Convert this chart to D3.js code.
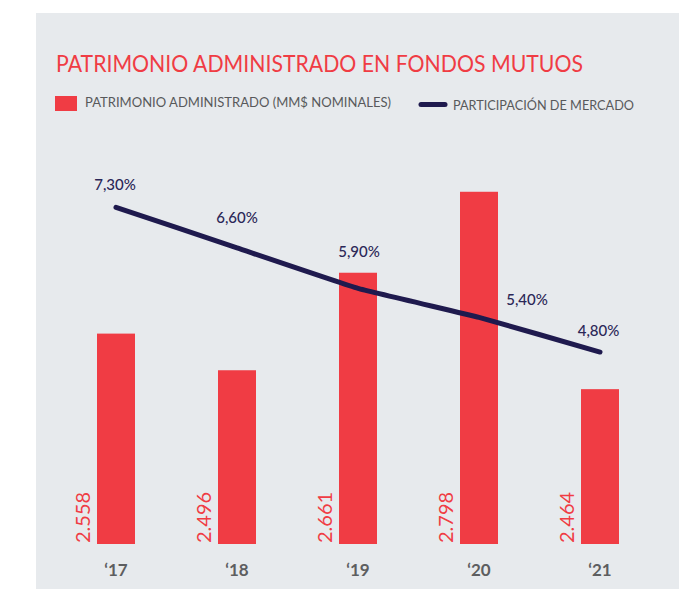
<!DOCTYPE html>
<html>
<head>
<meta charset="utf-8">
<script src="https://cdn.jsdelivr.net/npm/d3@7/dist/d3.min.js"></script>
<style>
  html, body { margin: 0; padding: 0; background: #ffffff; }
  svg { display: block; }
  text { font-family: Lato, "Open Sans", sans-serif; }
</style>
</head>
<body>
<svg id="chart" width="687" height="589"></svg>
<script>
// Fund assets under management (thousands of millions, nominal) and market share
const years = ["‘17", "‘18", "‘19", "‘20", "‘21"];
const assets = [2.558, 2.496, 2.661, 2.798, 2.464];
const assetLabels = ["2.558", "2.496", "2.661", "2.798", "2.464"];
const share = [7.30, 6.60, 5.90, 5.40, 4.80];
const shareLabels = ["7,30%", "6,60%", "5,90%", "5,40%", "4,80%"];

// Hand-placed offsets for the share labels, relative to each line point
const shareLabelNudge = [[-1, -17], [0, -25], [1, -31], [48, -12], [-1.5, -16]];

const RED = "#f03c44";
const NAVY = "#1f1a4e";
const GREY = "#58595b";

const svg = d3.select("#chart");

// Panel background
svg.append("rect")
  .attr("x", 36).attr("y", 13)
  .attr("width", 643).attr("height", 576)
  .attr("fill", "#e7eaed");

// Title
svg.append("text")
  .attr("x", 56).attr("y", 72)
  .attr("font-size", 24)
  .attr("fill", RED)
  .attr("textLength", 527)
  .attr("lengthAdjust", "spacingAndGlyphs")
  .text("PATRIMONIO ADMINISTRADO EN FONDOS MUTUOS");

// Legend
const legend = svg.append("g");
legend.append("rect")
  .attr("x", 55).attr("y", 96).attr("width", 22).attr("height", 15)
  .attr("fill", RED);
legend.append("text")
  .attr("x", 85).attr("y", 107)
  .attr("font-size", 13).attr("fill", GREY)
  .attr("textLength", 306).attr("lengthAdjust", "spacingAndGlyphs")
  .text("PATRIMONIO ADMINISTRADO (MM$ NOMINALES)");
legend.append("line")
  .attr("x1", 421).attr("x2", 445).attr("y1", 104.5).attr("y2", 104.5)
  .attr("stroke", NAVY).attr("stroke-width", 5).attr("stroke-linecap", "round");
legend.append("text")
  .attr("x", 453).attr("y", 110)
  .attr("font-size", 13).attr("fill", GREY)
  .attr("textLength", 181).attr("lengthAdjust", "spacingAndGlyphs")
  .text("PARTICIPACIÓN DE MERCADO");

// Scales
const x = d3.scaleBand()
  .domain(years)
  .range([55.5, 660.5])
  .paddingInner(0.686)
  .paddingOuter(0.343);

const yBar = d3.scaleLinear().domain([2.202, 2.801]).range([544, 190]);
const yLine = d3.scaleLinear().domain([1.5, 7.6]).range([543, 190]);

// Bars
svg.append("g").selectAll("rect")
  .data(years)
  .join("rect")
  .attr("x", d => x(d))
  .attr("width", x.bandwidth())
  .attr("y", (d, i) => yBar(assets[i]))
  .attr("height", (d, i) => yBar.range()[0] - yBar(assets[i]))
  .attr("fill", RED);

// Bar value labels, rotated along the left edge of each bar
svg.append("g").selectAll("text")
  .data(years)
  .join("text")
  .attr("transform", d => `translate(${x(d) - 7},${yBar.range()[0] - 1}) rotate(-90)`)
  .attr("text-anchor", "start")
  .attr("font-size", 20)
  .attr("fill", RED)
  .text((d, i) => assetLabels[i]);

// Market share line
const cx = d => x(d) + x.bandwidth() / 2;
const line = d3.line()
  .x(d => cx(d))
  .y((d, i) => yLine(share[i]))
  .curve(d3.curveCardinal.tension(0.75));

svg.append("path")
  .datum(years)
  .attr("d", line)
  .attr("fill", "none")
  .attr("stroke", NAVY)
  .attr("stroke-width", 5)
  .attr("stroke-linecap", "round")
  .attr("stroke-linejoin", "round");

// Share labels
svg.append("g").selectAll("text")
  .data(years)
  .join("text")
  .attr("x", (d, i) => cx(d) + shareLabelNudge[i][0])
  .attr("y", (d, i) => yLine(share[i]) + shareLabelNudge[i][1])
  .attr("text-anchor", "middle")
  .attr("font-size", 15)
  .attr("font-weight", 500)
  .attr("fill", "#2b2757")
  .text((d, i) => shareLabels[i]);

// X axis (labels only)
const xAxis = d3.axisBottom(x).tickSize(0).tickPadding(0);
const axisG = svg.append("g")
  .attr("transform", "translate(0,563)")
  .call(xAxis);
axisG.select(".domain").remove();
axisG.selectAll("text")
  .attr("font-family", "Lato, 'Open Sans', sans-serif")
  .attr("font-size", 17)
  .attr("font-weight", 700)
  .attr("fill", "#5d5e60")
  .attr("dy", "0.78em");
</script>
</body>
</html>
